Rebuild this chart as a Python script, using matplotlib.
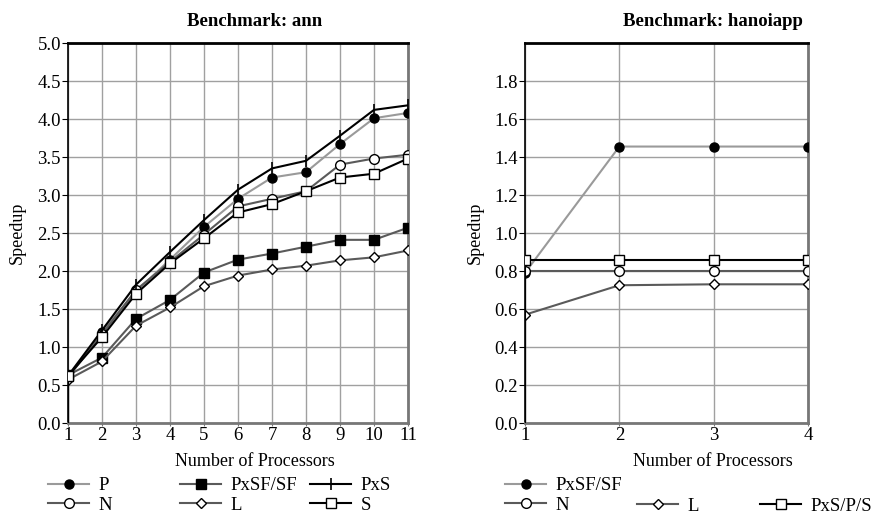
import matplotlib
matplotlib.use('Agg')
import matplotlib.pyplot as plt

plt.rcParams['font.family'] = ['Liberation Serif', 'DejaVu Serif']

## ann benchmark
ann_procs = [1, 2, 3, 4, 5, 6, 7, 8, 9, 10, 11]
ann_P = [0.60, 1.20, 1.73, 2.15, 2.58, 2.95, 3.23, 3.30, 3.67, 4.01, 4.08]
ann_N = [0.60, 1.17, 1.75, 2.12, 2.48, 2.85, 2.95, 3.05, 3.40, 3.48, 3.53]
ann_PxSF = [0.63, 0.86, 1.37, 1.62, 1.98, 2.15, 2.23, 2.32, 2.41, 2.41, 2.57]
ann_L = [0.57, 0.81, 1.28, 1.52, 1.80, 1.94, 2.02, 2.07, 2.14, 2.18, 2.27]
ann_PxS = [0.62, 1.22, 1.82, 2.25, 2.67, 3.07, 3.35, 3.45, 3.78, 4.12, 4.18]
ann_S = [0.62, 1.13, 1.70, 2.10, 2.43, 2.77, 2.88, 3.05, 3.23, 3.28, 3.48]

## hanoiapp benchmark
han_procs = [1, 2, 3, 4]
han_PxSF = [0.79, 1.455, 1.455, 1.455]
han_N = [0.80, 0.80, 0.80, 0.80]
han_L = [0.57, 0.725, 0.73, 0.73]
han_PxSPS = [0.86, 0.86, 0.86, 0.86]

LGRAY = '#9a9a9a'
DGRAY = '#5a5a5a'
W, H = 877.0, 513.0


def series(ax, x, y, color, marker, mfc, ms, label, lw=1.5):
    # each curve starts from 0 at the first processor count
    xs = [x[0]] + list(x)
    ys = [0] + list(y)
    return ax.plot(xs, ys, color=color, lw=lw, marker=marker, mfc=mfc, mec='black',
                   ms=ms, mew=1.0 if marker != '|' else 1.2,
                   markevery=list(range(1, len(xs))), label=label, zorder=3)[0]


def style(ax, xmax, ymax, yticks, title, tx):
    ax.set_xlim(1, xmax)
    ax.set_ylim(0, ymax)
    ax.set_yticks(yticks)
    ax.set_yticklabels(['%.1f' % v for v in yticks])
    ax.set_xticks(range(1, xmax + 1))
    ax.grid(True, color='#a0a0a0', lw=1.0, zorder=0)
    ax.spines['top'].set_color('black')
    ax.spines['top'].set_linewidth(2)
    ax.spines['right'].set_color('#777777')
    ax.spines['right'].set_linewidth(2)
    ax.spines['left'].set_color('black')
    ax.spines['left'].set_linewidth(1.2)
    ax.spines['bottom'].set_color('#777777')
    ax.spines['bottom'].set_linewidth(2)
    ax.tick_params(axis='y', labelsize=13.5, length=4, pad=1, color='black')
    ax.tick_params(axis='x', labelsize=13.5, length=2, pad=1, color='#777777')
    ax.set_ylabel('Speedup', fontsize=13)
    ax.set_xlabel('Number of Processors', fontsize=13)
    ax.xaxis.set_label_coords(tx, -0.08)
    ax.text(tx, 1.035, title, transform=ax.transAxes, ha='center', va='bottom',
            fontsize=13.5, fontweight='bold')


def column(handles, x, row):
    # one legend per column so each column can sit where the reference puts it
    y = 485 + row * 21
    fig.legend(handles, [h.get_label() for h in handles], loc='center left',
               bbox_to_anchor=(x / W, 1 - (y + 10.5 * (len(handles) - 1)) / H),
               frameon=False, fontsize=13.5, handlelength=2.2, handletextpad=0.5,
               labelspacing=0.12, borderpad=0, borderaxespad=0)


fig = plt.figure(figsize=(8.77, 5.13), dpi=100)
ax1 = fig.add_axes([68 / W, 1 - 423 / H, 340 / W, 380 / H])
ax2 = fig.add_axes([525 / W, 1 - 423 / H, 283 / W, 380 / H])

hP = series(ax1, ann_procs, ann_P, LGRAY, 'o', 'black', 6.5, 'P')
hN = series(ax1, ann_procs, ann_N, DGRAY, 'o', 'white', 7, 'N')
hSF = series(ax1, ann_procs, ann_PxSF, DGRAY, 's', 'black', 7, 'PxSF/SF')
hL = series(ax1, ann_procs, ann_L, DGRAY, 'D', 'white', 5, 'L')
hPxS = series(ax1, ann_procs, ann_PxS, 'black', '|', 'black', 9, 'PxS')
hS = series(ax1, ann_procs, ann_S, 'black', 's', 'white', 7, 'S')
style(ax1, 11, 5.0, [0, 0.5, 1.0, 1.5, 2.0, 2.5, 3.0, 3.5, 4.0, 4.5, 5.0],
      'Benchmark: ann', 0.55)
ax1.yaxis.set_label_coords(-0.125, 0.5)

g1 = series(ax2, han_procs, han_PxSF, LGRAY, 'o', 'black', 6.5, 'PxSF/SF')
g2 = series(ax2, han_procs, han_N, DGRAY, 'o', 'white', 7, 'N')
g3 = series(ax2, han_procs, han_L, DGRAY, 'D', 'white', 5, 'L')
g4 = series(ax2, han_procs, han_PxSPS, 'black', 's', 'white', 7, 'PxS/P/S')
style(ax2, 4, 2.0, [0, 0.2, 0.4, 0.6, 0.8, 1.0, 1.2, 1.4, 1.6, 1.8],
      'Benchmark: hanoiapp', 0.664)
ax2.yaxis.set_label_coords(-0.145, 0.5)

column([hP, hN], 48, 0)
column([hSF, hL], 180, 0)
column([hPxS, hS], 310, 0)
column([g1, g2], 505, 0)
column([g3], 637, 1)
column([g4], 760, 1)

fig.savefig('out.png', dpi=100)
